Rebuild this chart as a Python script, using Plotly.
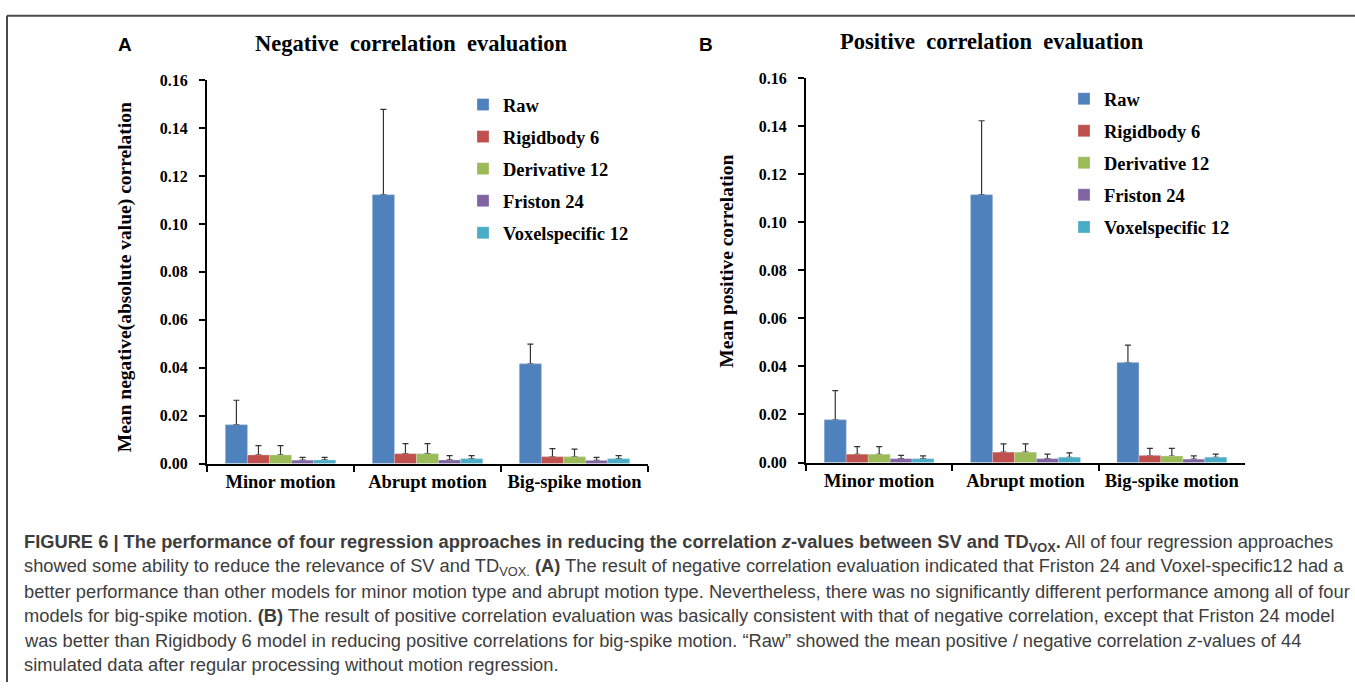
import plotly.graph_objects as go

W, H = 1355, 691

categories = ["Minor motion", "Abrupt motion", "Big-spike motion"]
series_names = ["Raw", "Rigidbody 6", "Derivative 12", "Friston 24", "Voxelspecific 12"]
colors = ["#4F81BD", "#C0504D", "#9BBB59", "#8064A2", "#4BACC6"]

# Panel A: negative correlation (means and upper error magnitudes)
neg_raw = [0.0162, 0.1122, 0.0416]
neg_rigid = [0.0036, 0.0041, 0.0028]
neg_deriv = [0.0036, 0.0041, 0.0028]
neg_friston = [0.0014, 0.0015, 0.0013]
neg_voxel = [0.0015, 0.0020, 0.0020]
neg_raw_err = [0.0102, 0.0356, 0.0082]
neg_rigid_err = [0.0039, 0.0042, 0.0034]
neg_deriv_err = [0.0039, 0.0042, 0.0032]
neg_friston_err = [0.0012, 0.0018, 0.0013]
neg_voxel_err = [0.0011, 0.0013, 0.0013]

# Panel B: positive correlation
pos_raw = [0.0178, 0.1115, 0.0416]
pos_rigid = [0.0034, 0.0043, 0.0029]
pos_deriv = [0.0034, 0.0043, 0.0027]
pos_friston = [0.0016, 0.0016, 0.0014]
pos_voxel = [0.0016, 0.0022, 0.0022]
pos_raw_err = [0.0121, 0.0308, 0.0073]
pos_rigid_err = [0.0032, 0.0035, 0.0030]
pos_deriv_err = [0.0032, 0.0035, 0.0032]
pos_friston_err = [0.0014, 0.0019, 0.0014]
pos_voxel_err = [0.0012, 0.0018, 0.0013]

y_ticks = [0.00, 0.02, 0.04, 0.06, 0.08, 0.10, 0.12, 0.14, 0.16]

neg_means = [neg_raw, neg_rigid, neg_deriv, neg_friston, neg_voxel]
neg_errs = [neg_raw_err, neg_rigid_err, neg_deriv_err, neg_friston_err, neg_voxel_err]
pos_means = [pos_raw, pos_rigid, pos_deriv, pos_friston, pos_voxel]
pos_errs = [pos_raw_err, pos_rigid_err, pos_deriv_err, pos_friston_err, pos_voxel_err]

SERIF = "Liberation Serif"
SANS = "Liberation Sans"

def px(x):
    return x / W

def py(y):
    return 1 - y / H

fig = go.Figure()

for (means, errs, xa, ya, lg) in [
    (neg_means, neg_errs, "x", "y", "legend"),
    (pos_means, pos_errs, "x2", "y2", "legend2"),
]:
    for i, name in enumerate(series_names):
        # error bars (upper only) drawn first, same slot as the visible bar
        fig.add_trace(go.Bar(
            x=categories, y=means[i], name=name, showlegend=False,
            xaxis=xa, yaxis=ya, offsetgroup=lg + name, hoverinfo="skip",
            marker=dict(color=colors[i]),
            error_y=dict(type="data", symmetric=False, array=errs[i],
                         arrayminus=[0] * len(errs[i]), color="#333333",
                         thickness=1.2, width=3),
        ))
    for i, name in enumerate(series_names):
        fig.add_trace(go.Bar(
            x=categories, y=means[i], name=name,
            xaxis=xa, yaxis=ya, legend=lg, legendgroup=lg + name, offsetgroup=lg + name,
            marker=dict(color=colors[i], line=dict(color="rgba(255,255,255,0.35)", width=0.8)),
        ))

axis_common_x = dict(
    type="category", showline=True, linecolor="black", linewidth=2,
    ticks="outside", tickson="boundaries", ticklen=6, tickwidth=2, tickcolor="black",
    tickfont=dict(family=SERIF, size=18.5, color="black", weight="bold"),
    showgrid=False, zeroline=False, fixedrange=True,
)
axis_common_y = dict(
    range=[0, 0.16], tickvals=y_ticks, tickformat=".2f",
    showline=True, linecolor="black", linewidth=2,
    ticks="outside", ticklen=6, tickwidth=2, tickcolor="black",
    tickfont=dict(family=SERIF, size=16, color="black", weight="bold"),
    showgrid=False, zeroline=False, ticklabelstandoff=8,
)

fig.update_layout(
    width=W, height=H, margin=dict(l=0, r=0, t=0, b=0),
    paper_bgcolor="white", plot_bgcolor="white",
    barmode="group", bargap=0.25, bargroupgap=0.0,
    xaxis=dict(domain=[px(207), px(648)], anchor="y", **axis_common_x),
    yaxis=dict(domain=[py(467), py(74)], anchor="x", **axis_common_y),
    xaxis2=dict(domain=[px(806), px(1245)], anchor="y2", **axis_common_x),
    yaxis2=dict(domain=[py(466), py(72)], anchor="x2", **axis_common_y),
    legend=dict(x=px(463), y=py(80), xanchor="left", yanchor="top",
                font=dict(family=SERIF, size=18.5, color="black", weight="bold"),
                tracegroupgap=5, bgcolor="rgba(0,0,0,0)"),
    legend2=dict(x=px(1064), y=py(74), xanchor="left", yanchor="top",
                 font=dict(family=SERIF, size=18.5, color="black", weight="bold"),
                 tracegroupgap=5, bgcolor="rgba(0,0,0,0)"),
    showlegend=True,
)

annotations = [
    dict(text="A", x=px(125), y=py(37), font=dict(family=SANS, size=19, color="black", weight="bold")),
    dict(text="B", x=px(706), y=py(37), font=dict(family=SANS, size=19, color="black", weight="bold")),
    dict(text="Negative  correlation  evaluation", x=px(411), y=py(36),
         font=dict(family=SERIF, size=22.5, color="black", weight="bold")),
    dict(text="Positive  correlation  evaluation", x=px(992), y=py(34),
         font=dict(family=SERIF, size=22.5, color="black", weight="bold")),
    dict(text="Mean negative(absolute value) correlation", x=px(125), y=py(276), textangle=-90,
         font=dict(family=SERIF, size=19.5, color="black", weight="bold")),
    dict(text="Mean positive correlation", x=px(727), y=py(259), textangle=-90,
         font=dict(family=SERIF, size=19.5, color="black", weight="bold")),
]
for a in annotations:
    a.update(xref="paper", yref="paper", showarrow=False, xanchor="center", yanchor="middle")

caption_lines = [
    "<b>FIGURE 6 | The performance of four regression approaches in reducing the correlation <i>z</i>-values between SV and TD<sub>VOX</sub>.</b> All of four regression approaches",
    "showed some ability to reduce the relevance of SV and TD<sub>VOX.</sub> <b>(A)</b> The result of negative correlation evaluation indicated that Friston 24 and Voxel-specific12 had a",
    "better performance than other models for minor motion type and abrupt motion type. Nevertheless, there was no significantly different performance among all of four",
    "models for big-spike motion. <b>(B)</b> The result of positive correlation evaluation was basically consistent with that of negative correlation, except that Friston 24 model",
    "was better than Rigidbody 6 model in reducing positive correlations for big-spike motion. “Raw” showed the mean positive / negative correlation <i>z</i>-values of 44",
    "simulated data after regular processing without motion regression.",
]
caption_y = [548, 573, 598, 623, 648, 673]
for line, yy in zip(caption_lines, caption_y):
    annotations.append(dict(text=line, x=px(22), y=py(yy), xref="paper", yref="paper",
                            showarrow=False, xanchor="left", yanchor="middle",
                            font=dict(family=SANS, size=18.3, color="#3d3d3d")))

fig.update_layout(annotations=annotations)

fig.update_layout(shapes=[
    dict(type="line", xref="paper", yref="paper", x0=px(7), x1=px(7), y0=0, y1=py(8),
         line=dict(color="#4a4a4a", width=2)),
    dict(type="line", xref="paper", yref="paper", x0=px(7), x1=1, y0=py(8), y1=py(8),
         line=dict(color="#4a4a4a", width=2)),
])

fig.write_html("out.html")
